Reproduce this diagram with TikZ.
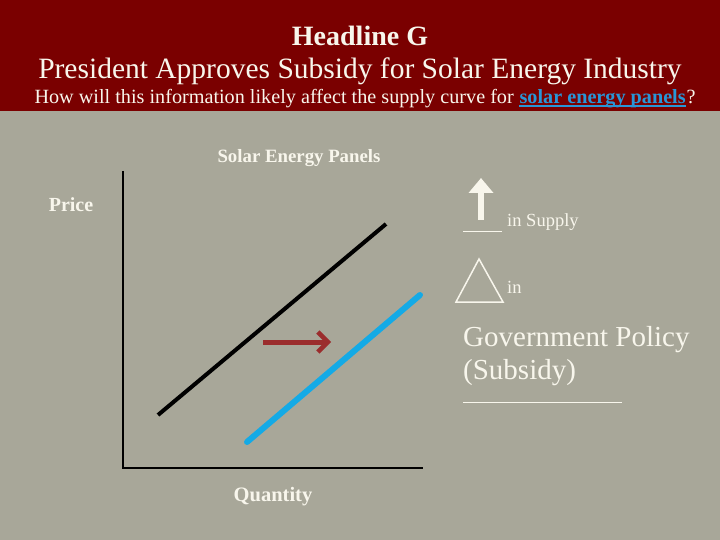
\documentclass[tikz,border=0pt]{standalone}
\usepackage{fontspec}
\setmainfont{Liberation Serif}
\usetikzlibrary{arrows.meta}
\definecolor{bgcol}{RGB}{168,167,153}
\definecolor{headcol}{RGB}{122,0,0}
\definecolor{txtcol}{RGB}{248,246,236}
\definecolor{linkcol}{RGB}{40,150,215}
\definecolor{bluecurve}{RGB}{20,170,230}
\definecolor{redarrow}{RGB}{155,45,45}
\tikzset{
  lbl/.style={text=txtcol, inner sep=0pt},
  axis/.style={draw=black, line width=1.3pt},
}
\newcommand{\linkul}[1]{\tikz[baseline=(lk.base)]{\node[inner sep=0pt, text=linkcol] (lk) {\textbf{#1}}; \draw[linkcol, line width=1.2pt] ([yshift=-2.2pt]lk.base west) -- ([yshift=-2.2pt]lk.base east);}}
\begin{document}
\begin{tikzpicture}[x=1pt,y=-1pt]
\useasboundingbox (0,0) rectangle (720,540);
\fill[bgcol] (0,0) rectangle (720,540);
\fill[headcol] (0,0) rectangle (720,111);
% header texts
\node[lbl, font=\fontsize{28}{32}\selectfont\bfseries] (h1) at (360,36) {Headline G};
\node[lbl, font=\fontsize{29.5}{34}\selectfont] (h2) at (360,71) {President Approves Subsidy for Solar Energy Industry};
\node[lbl, font=\fontsize{20.2}{23}\selectfont] (h3) at (365,99) {How will this information likely affect the supply curve for \linkul{solar energy panels}?};
% graph labels
\node[lbl, font=\fontsize{18.8}{21}\selectfont\bfseries] (title) at (299,158) {Solar Energy Panels};
\node[lbl, font=\fontsize{20}{22}\selectfont\bfseries] (price) at (71,205) {Price};
\node[lbl, font=\fontsize{20.5}{23}\selectfont\bfseries] (qty) at (273,497) {Quantity};
% axes
\coordinate (ytop) at (123,171);
\coordinate (orig) at (123,468);
\coordinate (xend) at (423,468);
\draw[axis] (ytop) -- (orig) -- (xend);
% supply curves
\coordinate (s1a) at (158,415);
\coordinate (s1b) at (386,224);
\draw[black, line width=4pt] (s1a) -- (s1b);
\coordinate (s2a) at (247,442);
\coordinate (s2b) at (420,295);
\draw[bluecurve, line width=6pt, line cap=round] (s2a) -- (s2b);
% shift arrow
\coordinate (ra) at (263,342);
\coordinate (rb) at (331,342);
\draw[redarrow, line width=5pt, -{Straight Barb[length=10pt,width=20pt,line width=4.5pt]}] (ra) -- (rb);
% right side
\coordinate (ua) at (481,220);
\coordinate (ub) at (481,178);
\draw[txtcol, line width=6pt, -{Triangle[length=15pt,width=24pt]}] (ua) -- (ub);
\coordinate (l1a) at (463,231);
\coordinate (l1b) at (502,231);
\draw[txtcol, line width=0.8pt] (l1a) -- (l1b);
\node[lbl, anchor=west, font=\fontsize{18.5}{21}\selectfont] (insup) at (507,222) {in Supply};
\coordinate (t1) at (479,259);
\coordinate (t2) at (456,302);
\coordinate (t3) at (503,302);
\draw[txtcol, line width=1.5pt] (t1) -- (t2) -- (t3) -- cycle;
\node[lbl, anchor=west, font=\fontsize{18.5}{21}\selectfont] (in) at (507,287) {in};
\node[lbl, anchor=west, font=\fontsize{29}{34}\selectfont] (gov) at (463,340) {Government Policy};
\node[lbl, anchor=west, font=\fontsize{29}{34}\selectfont] (sub) at (463,373) {(Subsidy)};
\coordinate (l2a) at (463,402);
\coordinate (l2b) at (622,402);
\draw[txtcol, line width=0.8pt] (l2a) -- (l2b);
\end{tikzpicture}
\end{document}
